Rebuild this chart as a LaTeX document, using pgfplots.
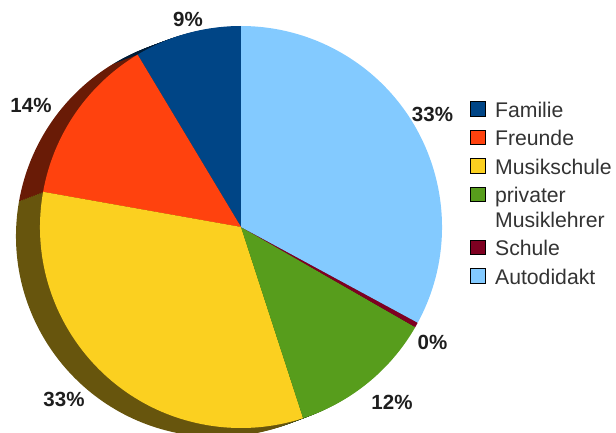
\documentclass[border=0pt]{standalone}
\usepackage{fontspec}
\setmainfont{Liberation Sans}
\usepackage{pgfplots}
\usepackage{pgfplotstable}
\pgfplotsset{compat=1.18}

\definecolor{cFam}{HTML}{004586}
\definecolor{cFre}{HTML}{FF420E}
\definecolor{cMus}{HTML}{FBD020}
\definecolor{cPri}{HTML}{579D1C}
\definecolor{cSch}{HTML}{7E0021}
\definecolor{cAut}{HTML}{83CAFF}
\definecolor{labtext}{HTML}{1E1E1E}
\definecolor{legtext}{HTML}{333333}

% slice values (percent), colour, label position (pt, image coordinates)
\pgfplotstableread[col sep=comma]{
name,value,col,lx,ly
Familie,8.6,cFam,188,412.5
Freunde,13.6,cFre,31,326.5
Musikschule,32.8,cMus,64,32.5
privater Musiklehrer,11.7,cPri,392,29.5
Schule,0.4,cSch,432.5,90
Autodidakt,32.9,cAut,432.5,317.5
}\piedata

\def\cx{241}\def\cy{205}\def\R{201}

\newcommand\pielayer[3]{% #1 dx, #2 dy, #3 shade
  \def\angA{90}%
  \pgfplotsforeachungrouped \ii in {0,...,5}{%
    \pgfplotstablegetelem{\ii}{value}\of\piedata\let\sliceval\pgfplotsretval
    \pgfplotstablegetelem{\ii}{col}\of\piedata\let\slicecol\pgfplotsretval
    \pgfmathsetmacro\angB{\angA+3.6*\sliceval}%
    \pgfmathsetmacro\px{\cx+(#1)}%
    \pgfmathsetmacro\py{\cy+(#2)}%
    \edef\temp{\noexpand\fill[\slicecol!#3!black] (axis cs:\px,\py) -- ++(\angA:\R pt) arc[start angle=\angA,end angle=\angB,radius=\R pt] -- cycle;}%
    \temp
    \let\angA\angB
  }%
}

\begin{document}
\begin{tikzpicture}
\useasboundingbox (0,0) rectangle (616pt,432pt);
\begin{axis}[
  at={(0pt,0pt)}, anchor=south west,
  width=616pt, height=432pt, scale only axis,
  xmin=0, xmax=616, ymin=0, ymax=432,
  hide axis, clip=true,
  legend image code/.code={\fill[#1] (0pt,1.4pt) rectangle (15pt,15.7pt);},
  legend style={at={(0.763,0.7685)}, anchor=north west, draw=none, fill=none,
    inner sep=0pt, outer sep=0pt, row sep=7.6pt, column sep=7.7pt,
    font=\fontsize{21.2pt}{24pt}\selectfont, text=legtext,
    cells={anchor=base west, inner sep=0pt, text height=15.3pt, text depth=5pt}},
]
\pgfplotsinvokeforeach{1,...,12}{\pielayer{-24*(13-#1)/12}{-9*(13-#1)/12}{41}}
\pielayer{0}{0}{100}

\pgfplotsforeachungrouped \ii in {0,...,5}{%
  \pgfplotstablegetelem{\ii}{value}\of\piedata\let\sliceval\pgfplotsretval
  \pgfplotstablegetelem{\ii}{lx}\of\piedata\let\lx\pgfplotsretval
  \pgfplotstablegetelem{\ii}{ly}\of\piedata\let\ly\pgfplotsretval
  \pgfmathtruncatemacro\lab{round(\sliceval)}%
  \edef\temp{\noexpand\node[font=\noexpand\fontsize{20.5pt}{24pt}\noexpand\selectfont\noexpand\bfseries, text=labtext, inner sep=0pt, anchor=center] at (axis cs:\lx,\ly) {\lab\noexpand\%};}%
  \temp
}

\addlegendimage{fill=cFam}\addlegendentry{Familie}
\addlegendimage{fill=cFre}\addlegendentry{Freunde}
\addlegendimage{fill=cMus}\addlegendentry{Musikschule}
\addlegendimage{fill=cPri}\addlegendentry{privater}
\addlegendimage{empty legend}\addlegendentry[text height=11.7pt]{Musiklehrer}
\addlegendimage{fill=cSch}\addlegendentry{Schule}
\addlegendimage{fill=cAut}\addlegendentry{Autodidakt}
\end{axis}
\end{tikzpicture}
\end{document}
